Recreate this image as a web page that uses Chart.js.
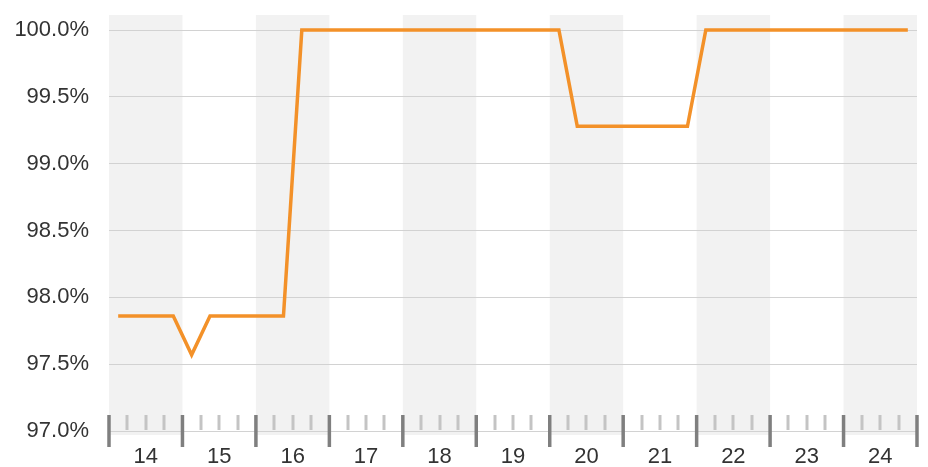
<!DOCTYPE html>
<html lang="en">
<head>
<meta charset="UTF-8">
<title>Daily Uptime</title>
<script src="https://cdn.jsdelivr.net/npm/chart.js"></script>
<style>
  html, body { margin: 0; padding: 0; background: #fff; }
  #wrap { width: 928px; height: 467px; }
</style>
</head>
<body>
<div id="wrap"><canvas id="uptimeChart" width="928" height="467"></canvas></div>

<script>
// days on the x axis, 4 samples per day
const days = [14, 15, 16, 17, 18, 19, 20, 21, 22, 23, 24];
const shadedDays = [14, 16, 18, 20, 22, 24];
const yTicks = [97, 97.5, 98, 98.5, 99, 99.5, 100];
const samplesPerDay = 4;

// uptime % per sample
const uptime = [
  97.86, 97.86, 97.86, 97.86,   // 14
  97.57, 97.86, 97.86, 97.86,   // 15
  97.86, 97.86, 100, 100,       // 16
  100, 100, 100, 100,           // 17
  100, 100, 100, 100,           // 18
  100, 100, 100, 100,           // 19
  100, 99.28, 99.28, 99.28,     // 20
  99.28, 99.28, 99.28, 99.28,   // 21
  100, 100, 100, 100,           // 22
  100, 100, 100, 100,           // 23
  100, 100, 100, 100            // 24
];

const points = uptime.map((v, i) => ({
  x: days[0] - 0.5 + (i + 0.5) / samplesPerDay,
  y: v
}));

// shaded columns behind everything
const bandsPlugin = {
  id: 'bands',
  beforeDraw(chart) {
    const { ctx, chartArea } = chart;
    const xs = chart.scales.x;
    ctx.save();
    ctx.fillStyle = '#f2f2f2';
    shadedDays.forEach(d => {
      const x0 = xs.getPixelForValue(d - 0.5);
      const x1 = xs.getPixelForValue(d + 0.5);
      ctx.fillRect(x0, chartArea.top, x1 - x0, chartArea.bottom - chartArea.top + 4);
    });
    ctx.restore();
  }
};

// day separators and sub-day tick marks along the bottom
const tickMarksPlugin = {
  id: 'tickMarks',
  afterDatasetsDraw(chart) {
    const { ctx, chartArea } = chart;
    const xs = chart.scales.x;
    const b = chartArea.bottom;
    ctx.save();
    ctx.strokeStyle = '#c4c4c4';
    ctx.lineWidth = 3;
    days.forEach(d => {
      for (let k = 1; k < samplesPerDay; k++) {
        const x = Math.round(xs.getPixelForValue(d - 0.5 + k / samplesPerDay));
        ctx.beginPath();
        ctx.moveTo(x, b - 16);
        ctx.lineTo(x, b - 1);
        ctx.stroke();
      }
    });
    ctx.strokeStyle = '#7f7f7f';
    ctx.lineWidth = 3.5;
    for (let i = 0; i <= days.length; i++) {
      const x = xs.getPixelForValue(days[0] - 0.5 + i);
      ctx.beginPath();
      ctx.moveTo(x, b - 16);
      ctx.lineTo(x, b + 16);
      ctx.stroke();
    }
    ctx.restore();
  }
};

const ctx = document.getElementById('uptimeChart').getContext('2d');
const uptimeChart = new Chart(ctx, {
  type: 'line',
  data: {
    datasets: [{
      data: points,
      borderColor: '#f39129',
      borderWidth: 3.5,
      pointRadius: 0,
      tension: 0,
      fill: false
    }]
  },
  options: {
    responsive: false,
    animation: false,
    layout: { padding: { top: 15, right: 11, left: 0, bottom: 0 } },
    plugins: {
      legend: { display: false },
      tooltip: { enabled: false }
    },
    scales: {
      x: {
        type: 'linear',
        min: days[0] - 0.5,
        max: days[days.length - 1] + 0.5,
        afterBuildTicks: s => { s.ticks = days.map(d => ({ value: d })); },
        afterFit: s => { s.height = 36; s.paddingLeft = 0; s.paddingRight = 0; },
        grid: { display: false, drawTicks: false },
        border: { display: false },
        ticks: {
          padding: 13,
          maxRotation: 0,
          autoSkip: false,
          color: '#333',
          font: { family: "'Liberation Sans', Arial, sans-serif", size: 22 }
        }
      },
      y: {
        min: 97,
        max: 100.1125,
        afterBuildTicks: s => { s.ticks = yTicks.map(v => ({ value: v })); },
        afterFit: s => { s.width = 109; s.paddingTop = 0; s.paddingBottom = 0; },
        grid: { color: '#d2d2d2', lineWidth: 1, drawTicks: false },
        border: { display: false },
        ticks: {
          padding: 20,
          color: '#333',
          font: { family: "'Liberation Sans', Arial, sans-serif", size: 22 },
          callback: v => v.toFixed(1) + '%'
        }
      }
    }
  },
  plugins: [bandsPlugin, tickMarksPlugin]
});
</script>
</body>
</html>
